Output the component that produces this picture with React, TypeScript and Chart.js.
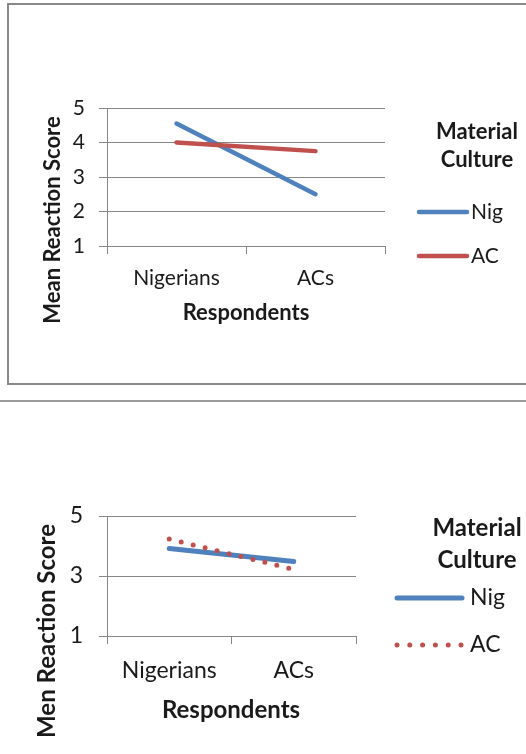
import { useEffect, useRef } from "react";
import { Chart, registerables } from "chart.js";

Chart.register(...registerables);

const categories = ["Nigerians", "ACs"];
const seriesLabels = ["Nig", "AC"];

// Upper panel: mean reaction score by respondent group
const meanNig = [4.55, 2.5];
const meanAC = [4.0, 3.75];
const meanTicks = [1, 2, 3, 4, 5];

// Lower panel: men reaction score by respondent group
const menNig = [3.92, 3.48];
const menAC = [4.23, 3.22];
const menTicks = [1, 3, 5];

const legendTitle = ["Material", "Culture"];
const xAxisTitle = "Respondents";
const meanYTitle = "Mean Reaction Score";
const menYTitle = "Men Reaction Score";

const BLUE = "#4f81bd";
const RED = "#c0504d";
const GRID = "#868686";
const INK = "#1a1a1a";
const FONT = "Lato, 'Open Sans', sans-serif";

type PanelSpec = {
  top: number;
  width: number;
  height: number;
  area: { left: number; top: number; right: number; bottom: number };
  nig: number[];
  ac: number[];
  ticks: number[];
  yTitle: string;
  tickSize: number;
  titleSize: number;
  yPad: number;
  xPad: number;
  yTitlePos: [number, number];
  xTitlePos: [number, number];
  legendTitleX: number;
  legendTitleY: [number, number];
  legendLine: [number, number];
  legendTextX: number;
  legendRows: [number, number];
  lineWidth: number;
  acDotted: boolean;
  dotGap: number;
  legendDotGap: number;
};

const Y_AXIS_BOX = 40;
const X_AXIS_BOX = 80;

function Panel({ spec }: { spec: PanelSpec }) {
  const ref = useRef<HTMLCanvasElement | null>(null);

  useEffect(() => {
    const canvas = ref.current;
    if (!canvas) return;
    const s = spec;

    // axis titles and the legend block at the right
    const decor = {
      id: "panelDecor",
      afterDraw(chart: Chart) {
        const ctx = chart.ctx;
        ctx.save();
        ctx.fillStyle = INK;
        ctx.textBaseline = "middle";
        ctx.textAlign = "center";
        ctx.font = `bold ${s.titleSize}px ${FONT}`;
        ctx.fillText(xAxisTitle, s.xTitlePos[0], s.xTitlePos[1]);
        ctx.save();
        ctx.translate(s.yTitlePos[0], s.yTitlePos[1]);
        ctx.rotate(-Math.PI / 2);
        ctx.fillText(s.yTitle, 0, 0);
        ctx.restore();

        legendTitle.forEach((t, i) => {
          ctx.fillText(t, s.legendTitleX, s.legendTitleY[i]);
        });

        ctx.textAlign = "left";
        ctx.font = `${s.tickSize}px ${FONT}`;
        chart.data.datasets.forEach((ds: any, i: number) => {
          const y = s.legendRows[i];
          ctx.save();
          ctx.strokeStyle = ds.borderColor;
          ctx.lineWidth = ds.borderWidth;
          ctx.lineCap = "round";
          const dash = ds.borderDash && ds.borderDash.length ? [0, s.legendDotGap] : [];
          ctx.setLineDash(dash);
          ctx.beginPath();
          ctx.moveTo(s.legendLine[0], y);
          ctx.lineTo(s.legendLine[1], y);
          ctx.stroke();
          ctx.restore();
          ctx.fillText(ds.label, s.legendTextX, y);
        });
        ctx.restore();
      },
    };

    const tickFont = { family: FONT, size: s.tickSize };
    const chart = new Chart(canvas, {
      type: "line",
      data: {
        labels: categories,
        datasets: [
          {
            label: seriesLabels[0],
            data: s.nig,
            borderColor: BLUE,
            backgroundColor: BLUE,
            borderWidth: s.lineWidth,
            borderCapStyle: "round",
            pointRadius: 0,
            fill: false,
            order: 1,
          },
          {
            label: seriesLabels[1],
            data: s.ac,
            borderColor: RED,
            backgroundColor: RED,
            borderWidth: s.acDotted ? 5 : s.lineWidth,
            borderDash: s.acDotted ? [0, s.dotGap] : [],
            borderCapStyle: "round",
            pointRadius: 0,
            fill: false,
            order: 0,
          },
        ],
      },
      options: {
        responsive: false,
        animation: false,
        devicePixelRatio: 1,
        events: [],
        layout: {
          padding: {
            left: s.area.left - Y_AXIS_BOX,
            top: s.area.top,
            right: s.width - s.area.right,
            bottom: s.height - s.area.bottom - X_AXIS_BOX,
          },
        },
        plugins: {
          legend: { display: false },
          tooltip: { enabled: false },
          title: { display: false },
        },
        scales: {
          x: {
            offset: true,
            grid: {
              offset: true,
              drawOnChartArea: false,
              drawTicks: true,
              tickLength: 8,
              color: GRID,
              lineWidth: 1,
            },
            border: { color: GRID, width: 1 },
            ticks: { font: tickFont, color: INK, padding: s.xPad, maxRotation: 0 },
            afterFit: (sc: any) => {
              sc.height = X_AXIS_BOX;
            },
          },
          y: {
            min: Math.min(...s.ticks),
            max: Math.max(...s.ticks),
            grid: { color: GRID, lineWidth: 1, tickLength: 8 },
            border: { color: GRID, width: 1 },
            ticks: { font: tickFont, color: INK, padding: s.yPad },
            afterBuildTicks: (sc: any) => {
              sc.ticks = s.ticks.map((v) => ({ value: v }));
            },
            afterFit: (sc: any) => {
              sc.width = Y_AXIS_BOX;
            },
          },
        },
      },
      plugins: [decor],
    } as any);

    return () => chart.destroy();
  }, [spec]);

  return (
    <canvas
      ref={ref}
      width={spec.width}
      height={spec.height}
      style={{
        position: "absolute",
        left: 0,
        top: spec.top,
        width: spec.width,
        height: spec.height,
      }}
    />
  );
}

const upper: PanelSpec = {
  top: 0,
  width: 526,
  height: 392,
  area: { left: 107, top: 108, right: 385, bottom: 246 },
  nig: meanNig,
  ac: meanAC,
  ticks: meanTicks,
  yTitle: meanYTitle,
  tickSize: 21,
  titleSize: 22,
  yPad: 14,
  xPad: 12,
  yTitlePos: [53, 220],
  xTitlePos: [246, 313],
  legendTitleX: 477,
  legendTitleY: [132, 160],
  legendLine: [419, 467],
  legendTextX: 471,
  legendRows: [212, 256],
  lineWidth: 4.5,
  acDotted: false,
  dotGap: 12.3,
  legendDotGap: 12.8,
};

const lower: PanelSpec = {
  top: 402,
  width: 526,
  height: 352,
  area: { left: 107, top: 114, right: 356, bottom: 234 },
  nig: menNig,
  ac: menAC,
  ticks: menTicks,
  yTitle: menYTitle,
  tickSize: 23,
  titleSize: 24,
  yPad: 16,
  xPad: 13,
  yTitlePos: [47, 229],
  xTitlePos: [231, 308],
  legendTitleX: 477,
  legendTitleY: [126, 158],
  legendLine: [397, 462],
  legendTextX: 470,
  legendRows: [196, 243],
  lineWidth: 5,
  acDotted: true,
  dotGap: 12.3,
  legendDotGap: 12.8,
};

export default function App() {
  return (
    <div
      style={{
        position: "absolute",
        left: 0,
        top: 0,
        width: 526,
        height: 754,
        overflow: "hidden",
        background: "#ffffff",
      }}
    >
      <div
        style={{
          position: "absolute",
          left: 7,
          top: 3,
          width: 600,
          height: 382,
          boxSizing: "border-box",
          border: "2px solid #888888",
        }}
      />
      <div
        style={{
          position: "absolute",
          left: 0,
          top: 400,
          width: 526,
          height: 2,
          background: "#9a9a9a",
        }}
      />
      <Panel spec={upper} />
      <Panel spec={lower} />
    </div>
  );
}
